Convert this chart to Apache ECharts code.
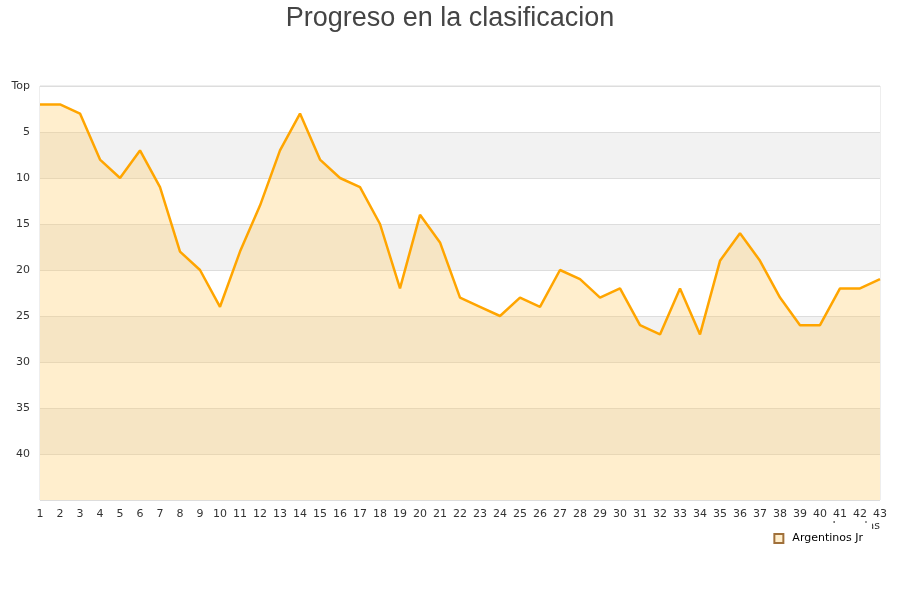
<!DOCTYPE html>
<html>
<head>
<meta charset="utf-8">
<script src="https://cdn.jsdelivr.net/npm/echarts@6/dist/echarts.min.js"></script>
<style>html,body{margin:0;padding:0;background:#fff}#c{width:900px;height:600px}</style>
</head>
<body>
<div id="c"></div>
<script>
var rounds = [];
for (var i = 1; i <= 43; i++) rounds.push(String(i));
var teamName = 'Argentinos Jr';
var positions = [2,2,3,8,10,7,11,18,20,24,18,13,7,3,8,10,11,15,22,14,17,23,24,25,23,24,20,21,23,22,26,27,22,27,19,16,19,23,26,26,22,22,21];
var chartTitle = 'Progreso en la clasificacion';

var chart = echarts.init(document.getElementById('c'), null, {renderer: 'canvas'});
chart.setOption({
  animation: false,
  backgroundColor: '#fff',
  title: {
    text: chartTitle,
    left: 'center',
    top: 0,
    textStyle: {fontFamily: 'Liberation Sans', fontSize: 27, fontWeight: 'normal', color: '#444'}
  },
  legend: {
    data: [teamName],
    right: 28,
    top: 523,
    padding: [10, 9, 5, 5],
    backgroundColor: '#fff',
    itemWidth: 9,
    itemHeight: 9,
    itemGap: 5,
    icon: 'rect',
    textStyle: {fontFamily: 'DejaVu Sans', fontSize: 11, color: '#000', padding: [0, 0, 0, 4]},
    z: 10
  },
  grid: {left: 40, right: 20, top: 86, bottom: 100, containLabel: false, outerBoundsMode: 'none', show: true, borderColor: '#ddd', borderWidth: 1, backgroundColor: 'transparent'},
  xAxis: {
    type: 'category',
    position: 'bottom',
    data: rounds,
    boundaryGap: false,
    name: 'Jornadas',
    nameLocation: 'end',
    nameGap: 0,
    nameTextStyle: {fontFamily: 'DejaVu Sans', fontSize: 11, color: '#333', align: 'right', verticalAlign: 'top', padding: [21, 0, 0, 0]},
    axisLine: {show: false, onZero: false},
    axisTick: {show: false},
    axisLabel: {fontFamily: 'DejaVu Sans', fontSize: 11, color: '#333', margin: 9, interval: 0},
    splitLine: {show: false}
  },
  yAxis: {
    type: 'value',
    inverse: true,
    min: 0,
    max: 45,
    interval: 5,
    name: 'Posicion',
    nameLocation: 'middle',
    nameGap: 26,
    nameTextStyle: {fontFamily: 'DejaVu Sans', fontSize: 11, color: '#333'},
    axisLine: {show: false},
    axisTick: {show: false},
    axisLabel: {
      fontFamily: 'DejaVu Sans', fontSize: 11, color: '#333', margin: 10,
      formatter: function (v) { return v === 0 ? 'Top' : (v === 45 ? '' : String(v)); }
    },
    splitLine: {show: true, lineStyle: {color: '#ddd', width: 1}},
    splitArea: {show: true, areaStyle: {color: ['#ffffff', '#f2f2f2']}}
  },
  series: [{
    name: teamName,
    type: 'line',
    data: positions,
    symbol: 'none',
    showSymbol: false,
    lineStyle: {color: '#FFA500', width: 2.5},
    itemStyle: {color: '#FFEECC', borderColor: '#A0703A', borderWidth: 1},
    areaStyle: {color: '#FFCC66', opacity: 0.33, origin: 'end'},
    z: 3
  }]
});
</script>
</body>
</html>
